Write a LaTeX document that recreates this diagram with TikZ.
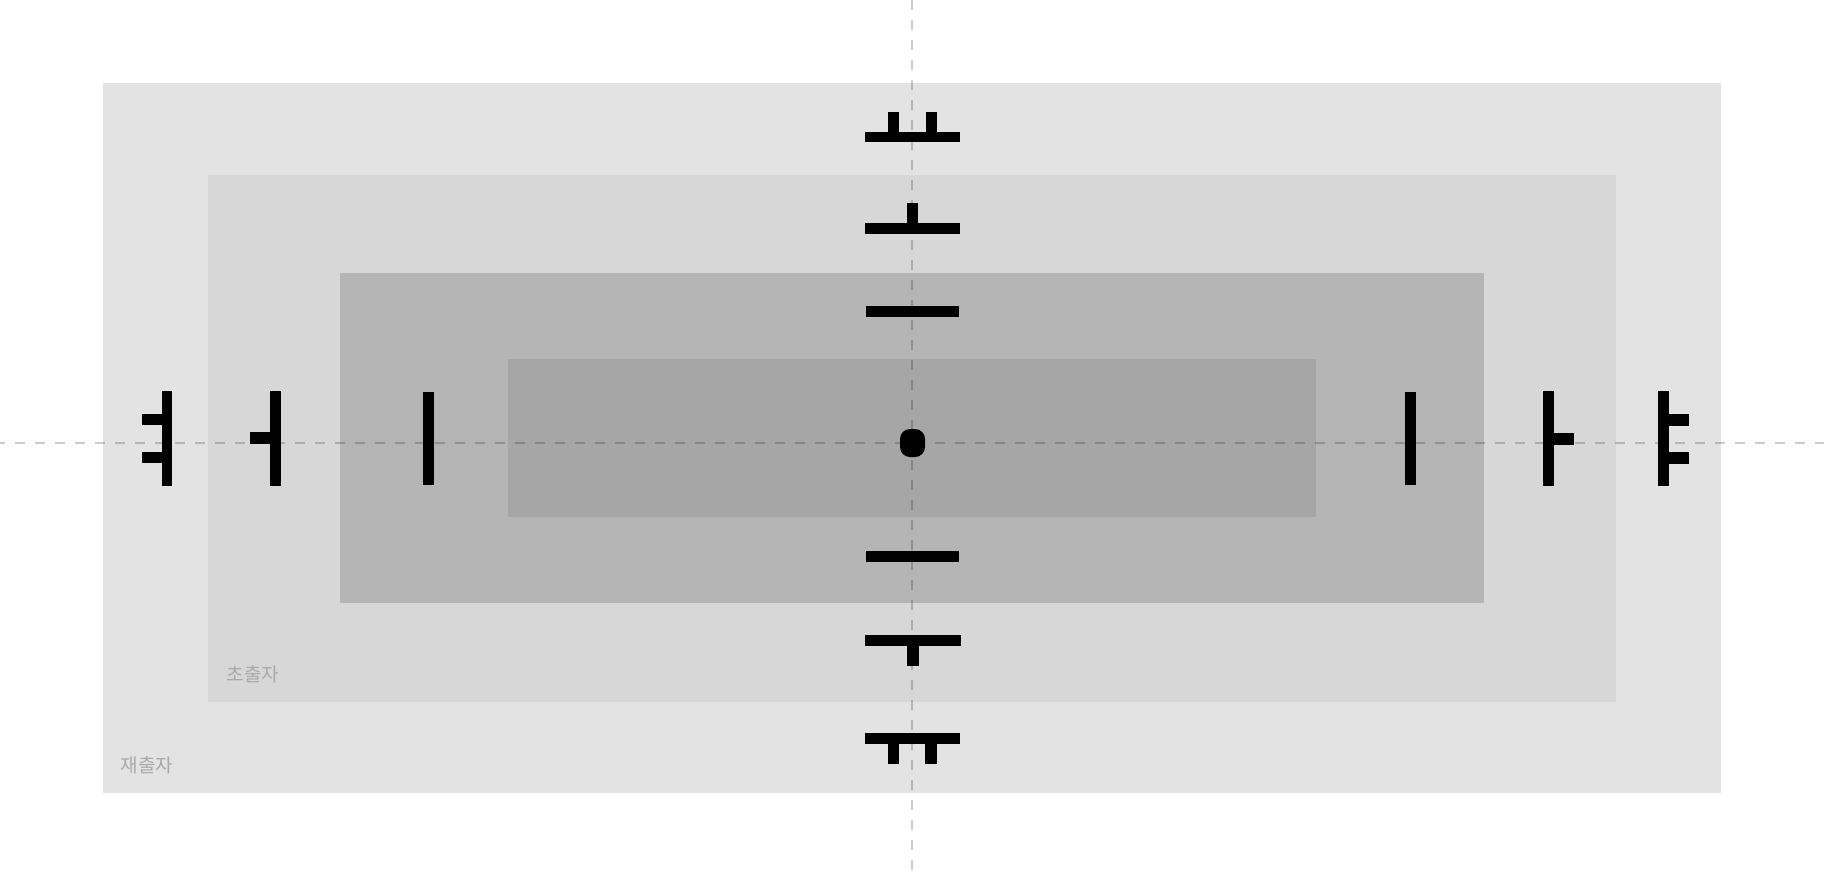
\documentclass[tikz,border=0pt]{standalone}
\usepackage{fontspec}
\usepackage{xcolor}
\usepackage{tikz}
\usetikzlibrary{positioning}
\newfontfamily\krfont{Noto Sans CJK KR}

\definecolor{layerA}{HTML}{E3E3E3}
\definecolor{layerB}{HTML}{D7D7D7}
\definecolor{layerC}{HTML}{B5B5B5}
\definecolor{layerD}{HTML}{A6A6A6}
\definecolor{labelgray}{HTML}{A9A9A9}

\begin{document}
\begin{tikzpicture}[
        x=0.02cm, y=-0.02cm,
        bar/.style={fill=black},
        guide/.style={draw=black, draw opacity=0.2, line width=0.04cm, dash pattern=on 0.2cm off 0.2cm},
        zonelabel/.style={anchor=west, inner sep=0pt, font=\krfont\fontsize{10.8pt}{13pt}\selectfont, text=labelgray}
    ]
        \useasboundingbox (0,0) rectangle (1824,876);

        % nested zones
        \fill[layerA] (102.7,83.3) rectangle (1721,793.3);
        \fill[layerB] (208.3,174.5) rectangle (1615.7,701.7);
        \fill[layerC] (340,273.4) rectangle (1484.4,602.7);
        \fill[layerD] (508.4,359.3) rectangle (1315.7,516.5);

        \node[zonelabel] (retake) at (120.5,765.5) {재출자};
        \node[zonelabel] (first) at (226.5,674.5) {초출자};

        % guides
        \coordinate (gl) at (-5,443);
        \coordinate (gr) at (1824,443);
        \coordinate (gt) at (912,0);
        \coordinate (gb) at (912,876);
        \draw[guide] (gl) -- (gr);
        \draw[guide] (gt) -- (gb);

        % centre dot
        \fill[bar, rounded corners=0.2cm] (900,429) rectangle (925,457);

        % top: yo, o, eu
        \fill[bar] (865,131.7) rectangle (960,142.3);
        \fill[bar] (887.7,111.7) rectangle (899.3,131.7);
        \fill[bar] (925.7,111.7) rectangle (937.3,131.7);
        \fill[bar] (865,223.3) rectangle (960,234);
        \fill[bar] (906.7,202.7) rectangle (918.3,223.3);
        \fill[bar] (866,306.3) rectangle (959,317);

        % bottom: eu, u, yu
        \fill[bar] (866,551.3) rectangle (959,562.3);
        \fill[bar] (865.3,635.3) rectangle (960.7,646.3);
        \fill[bar] (907.3,646.3) rectangle (919,666.3);
        \fill[bar] (865,733) rectangle (960,744);
        \fill[bar] (887.7,744) rectangle (899.3,764.3);
        \fill[bar] (925.3,744) rectangle (937,764.3);

        % left: yeo, eo, i
        \fill[bar] (161.7,391) rectangle (172.3,486.3);
        \fill[bar] (141.7,413.7) rectangle (161.7,425);
        \fill[bar] (141.7,451.7) rectangle (161.7,463.3);
        \fill[bar] (269.7,391) rectangle (281,486.3);
        \fill[bar] (250,432.3) rectangle (269.7,444);
        \fill[bar] (423.3,392.3) rectangle (434.3,485.3);

        % right: i, a, ya
        \fill[bar] (1404.7,392.3) rectangle (1415.7,485.3);
        \fill[bar] (1543,391.3) rectangle (1554,486.3);
        \fill[bar] (1554,433) rectangle (1573.7,444.7);
        \fill[bar] (1658.3,391.3) rectangle (1669.3,486.3);
        \fill[bar] (1669.3,414) rectangle (1689.3,425.7);
        \fill[bar] (1669.3,452) rectangle (1689.3,463.7);
    \end{tikzpicture}
\end{document}
